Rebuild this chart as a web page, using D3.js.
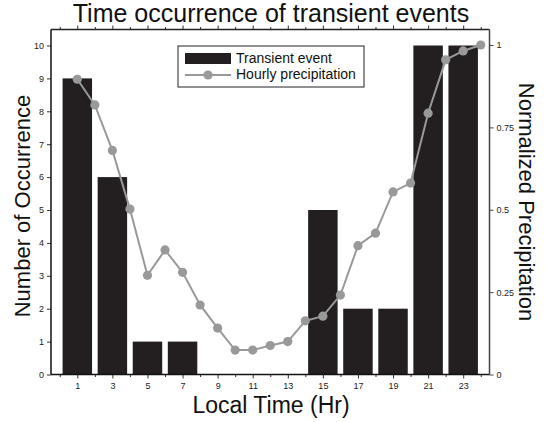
<!DOCTYPE html>
<html>
<head>
<meta charset="utf-8">
<script src="https://cdn.jsdelivr.net/npm/d3@7/dist/d3.min.js"></script>
<style>
  html, body { margin: 0; padding: 0; background: #fff; }
  svg { display: block; font-family: "Liberation Sans", Arial, sans-serif; }
</style>
</head>
<body>
<svg id="chart" width="546" height="422"></svg>
<script>
// ---- Data ----
const barHours = [1, 3, 5, 7, 9, 11, 13, 15, 17, 19, 21, 23];
const barCounts = [9, 6, 1, 1, 0, 0, 0, 5, 2, 2, 10, 10];
const precipHours = [1, 2, 3, 4, 5, 6, 7, 8, 9, 10, 11, 12, 13, 14, 15, 16, 17, 18, 19, 20, 21, 22, 23, 24];
const precipValues = [0.896, 0.818, 0.680, 0.502, 0.301, 0.378, 0.310, 0.211, 0.141, 0.074, 0.074, 0.088,
                      0.100, 0.163, 0.177, 0.241, 0.391, 0.429, 0.554, 0.581, 0.793, 0.955, 0.982, 1.0];
const xTickLabels = [1, 3, 5, 7, 9, 11, 13, 15, 17, 19, 21, 23];
const leftTicks = [0, 1, 2, 3, 4, 5, 6, 7, 8, 9, 10];
const rightTicks = [0, 0.25, 0.5, 0.75, 1];
const titleText = "Time occurrence of transient events";
const xTitle = "Local Time (Hr)";
const yLeftTitle = "Number of Occurrence";
const yRightTitle = "Normalized Precipitation";
const legendLabels = ["Transient event", "Hourly precipitation"];

// ---- Layout ----
const L = 51, R = 489.5, T = 29.5, B = 374.5;
const barColor = "#231f20";
const lineColor = "#999999";

const svg = d3.select("#chart");
const x = d3.scaleLinear().domain([-0.5, 24.5]).range([L, R]);
const yL = d3.scaleLinear().domain([0, 10]).range([B, 45.5]);
const yR = d3.scaleLinear().domain([0, 1]).range([B, 45]);

// Bars
const halfW = 0.84;
svg.append("g").selectAll("rect").data(barHours.map((h, i) => ({h, v: barCounts[i]})).filter(d => d.v > 0))
  .join("rect")
  .attr("x", d => x(d.h - halfW))
  .attr("width", d => x(d.h + halfW) - x(d.h - halfW))
  .attr("y", d => yL(d.v))
  .attr("height", d => yL(0) - yL(d.v))
  .attr("fill", barColor);

// Line
const pts = precipHours.map((h, i) => ({h, v: precipValues[i]}));
svg.append("path").datum(pts)
  .attr("fill", "none").attr("stroke", lineColor).attr("stroke-width", 2)
  .attr("d", d3.line().x(d => x(d.h)).y(d => yR(d.v)));
svg.append("g").selectAll("circle").data(pts).join("circle")
  .attr("cx", d => x(d.h)).attr("cy", d => yR(d.v)).attr("r", 4.6)
  .attr("fill", lineColor);

// Axes
const allHours = d3.range(0, 25);
// bottom axis
const xAxis = d3.axisBottom(x).tickValues(allHours).tickSize(3.5).tickPadding(5)
  .tickFormat(d => xTickLabels.includes(d) ? d : "");
const gx = svg.append("g").attr("transform", `translate(0,${B})`).call(xAxis);
gx.select(".domain").remove();
gx.selectAll(".tick line").attr("stroke", "#333").attr("y2", d => xTickLabels.includes(d) ? 4 : 2.5);
gx.selectAll("text").attr("font-size", 9).attr("fill", "#222").attr("font-family", "Liberation Sans, Arial, sans-serif");

// top ticks
const xTop = d3.axisTop(x).tickValues(allHours).tickSize(3).tickFormat("");
const gt = svg.append("g").attr("transform", `translate(0,${T})`).call(xTop);
gt.select(".domain").remove();
gt.selectAll(".tick line").attr("stroke", "#333").attr("y2", d => xTickLabels.includes(d) ? -4 : -2.5);

// left axis
const yAxisL = d3.axisLeft(yL).tickValues(leftTicks).tickSize(4).tickPadding(3);
const gl = svg.append("g").attr("transform", `translate(${L},0)`).call(yAxisL);
gl.select(".domain").remove();
gl.selectAll(".tick line").attr("stroke", "#333");
gl.selectAll("text").attr("font-size", 9).attr("fill", "#222").attr("font-family", "Liberation Sans, Arial, sans-serif");

// right axis
const yAxisR = d3.axisRight(yR).tickValues(rightTicks).tickSize(4).tickPadding(3)
  .tickFormat(d => String(d));
const gr = svg.append("g").attr("transform", `translate(${R},0)`).call(yAxisR);
gr.select(".domain").remove();
gr.selectAll(".tick line").attr("stroke", "#444");
gr.selectAll("text").attr("font-size", 9).attr("fill", "#222").attr("font-family", "Liberation Sans, Arial, sans-serif");

// frame
svg.append("line").attr("x1", L).attr("x2", R).attr("y1", T).attr("y2", T).attr("stroke", "#222").attr("stroke-width", 1.5);
svg.append("line").attr("x1", L).attr("x2", R).attr("y1", B).attr("y2", B).attr("stroke", "#111").attr("stroke-width", 1.5);
svg.append("line").attr("x1", L).attr("x2", L).attr("y1", T).attr("y2", B).attr("stroke", "#111").attr("stroke-width", 1.5);
svg.append("line").attr("x1", R).attr("x2", R).attr("y1", T).attr("y2", B).attr("stroke", "#444").attr("stroke-width", 1.5);

// Titles
svg.append("text").attr("x", 271).attr("y", 22).attr("text-anchor", "middle")
  .attr("font-size", 25).attr("fill", "#111").text(titleText);
svg.append("text").attr("x", 271).attr("y", 413).attr("text-anchor", "middle")
  .attr("font-size", 23).attr("fill", "#111").text(xTitle);
svg.append("text").attr("transform", `translate(30,206) rotate(-90)`).attr("text-anchor", "middle")
  .attr("font-size", 22).attr("fill", "#111").text(yLeftTitle);
svg.append("text").attr("transform", `translate(519,202) rotate(90)`).attr("text-anchor", "middle")
  .attr("font-size", 22).attr("fill", "#111").text(yRightTitle);

// Legend
const lg = svg.append("g");
lg.append("rect").attr("x", 178).attr("y", 46).attr("width", 186).attr("height", 41)
  .attr("fill", "#fff").attr("stroke", "#222").attr("stroke-width", 1);
lg.append("rect").attr("x", 185).attr("y", 53).attr("width", 46).attr("height", 11).attr("fill", barColor);
lg.append("line").attr("x1", 185).attr("x2", 231).attr("y1", 75).attr("y2", 75).attr("stroke", lineColor).attr("stroke-width", 2);
lg.append("circle").attr("cx", 208).attr("cy", 75).attr("r", 4.6).attr("fill", lineColor);
lg.append("text").attr("x", 236).attr("y", 63).attr("font-size", 14).attr("fill", "#111").text(legendLabels[0]);
lg.append("text").attr("x", 236).attr("y", 79).attr("font-size", 14).attr("fill", "#111").text(legendLabels[1]);
</script>
</body>
</html>
